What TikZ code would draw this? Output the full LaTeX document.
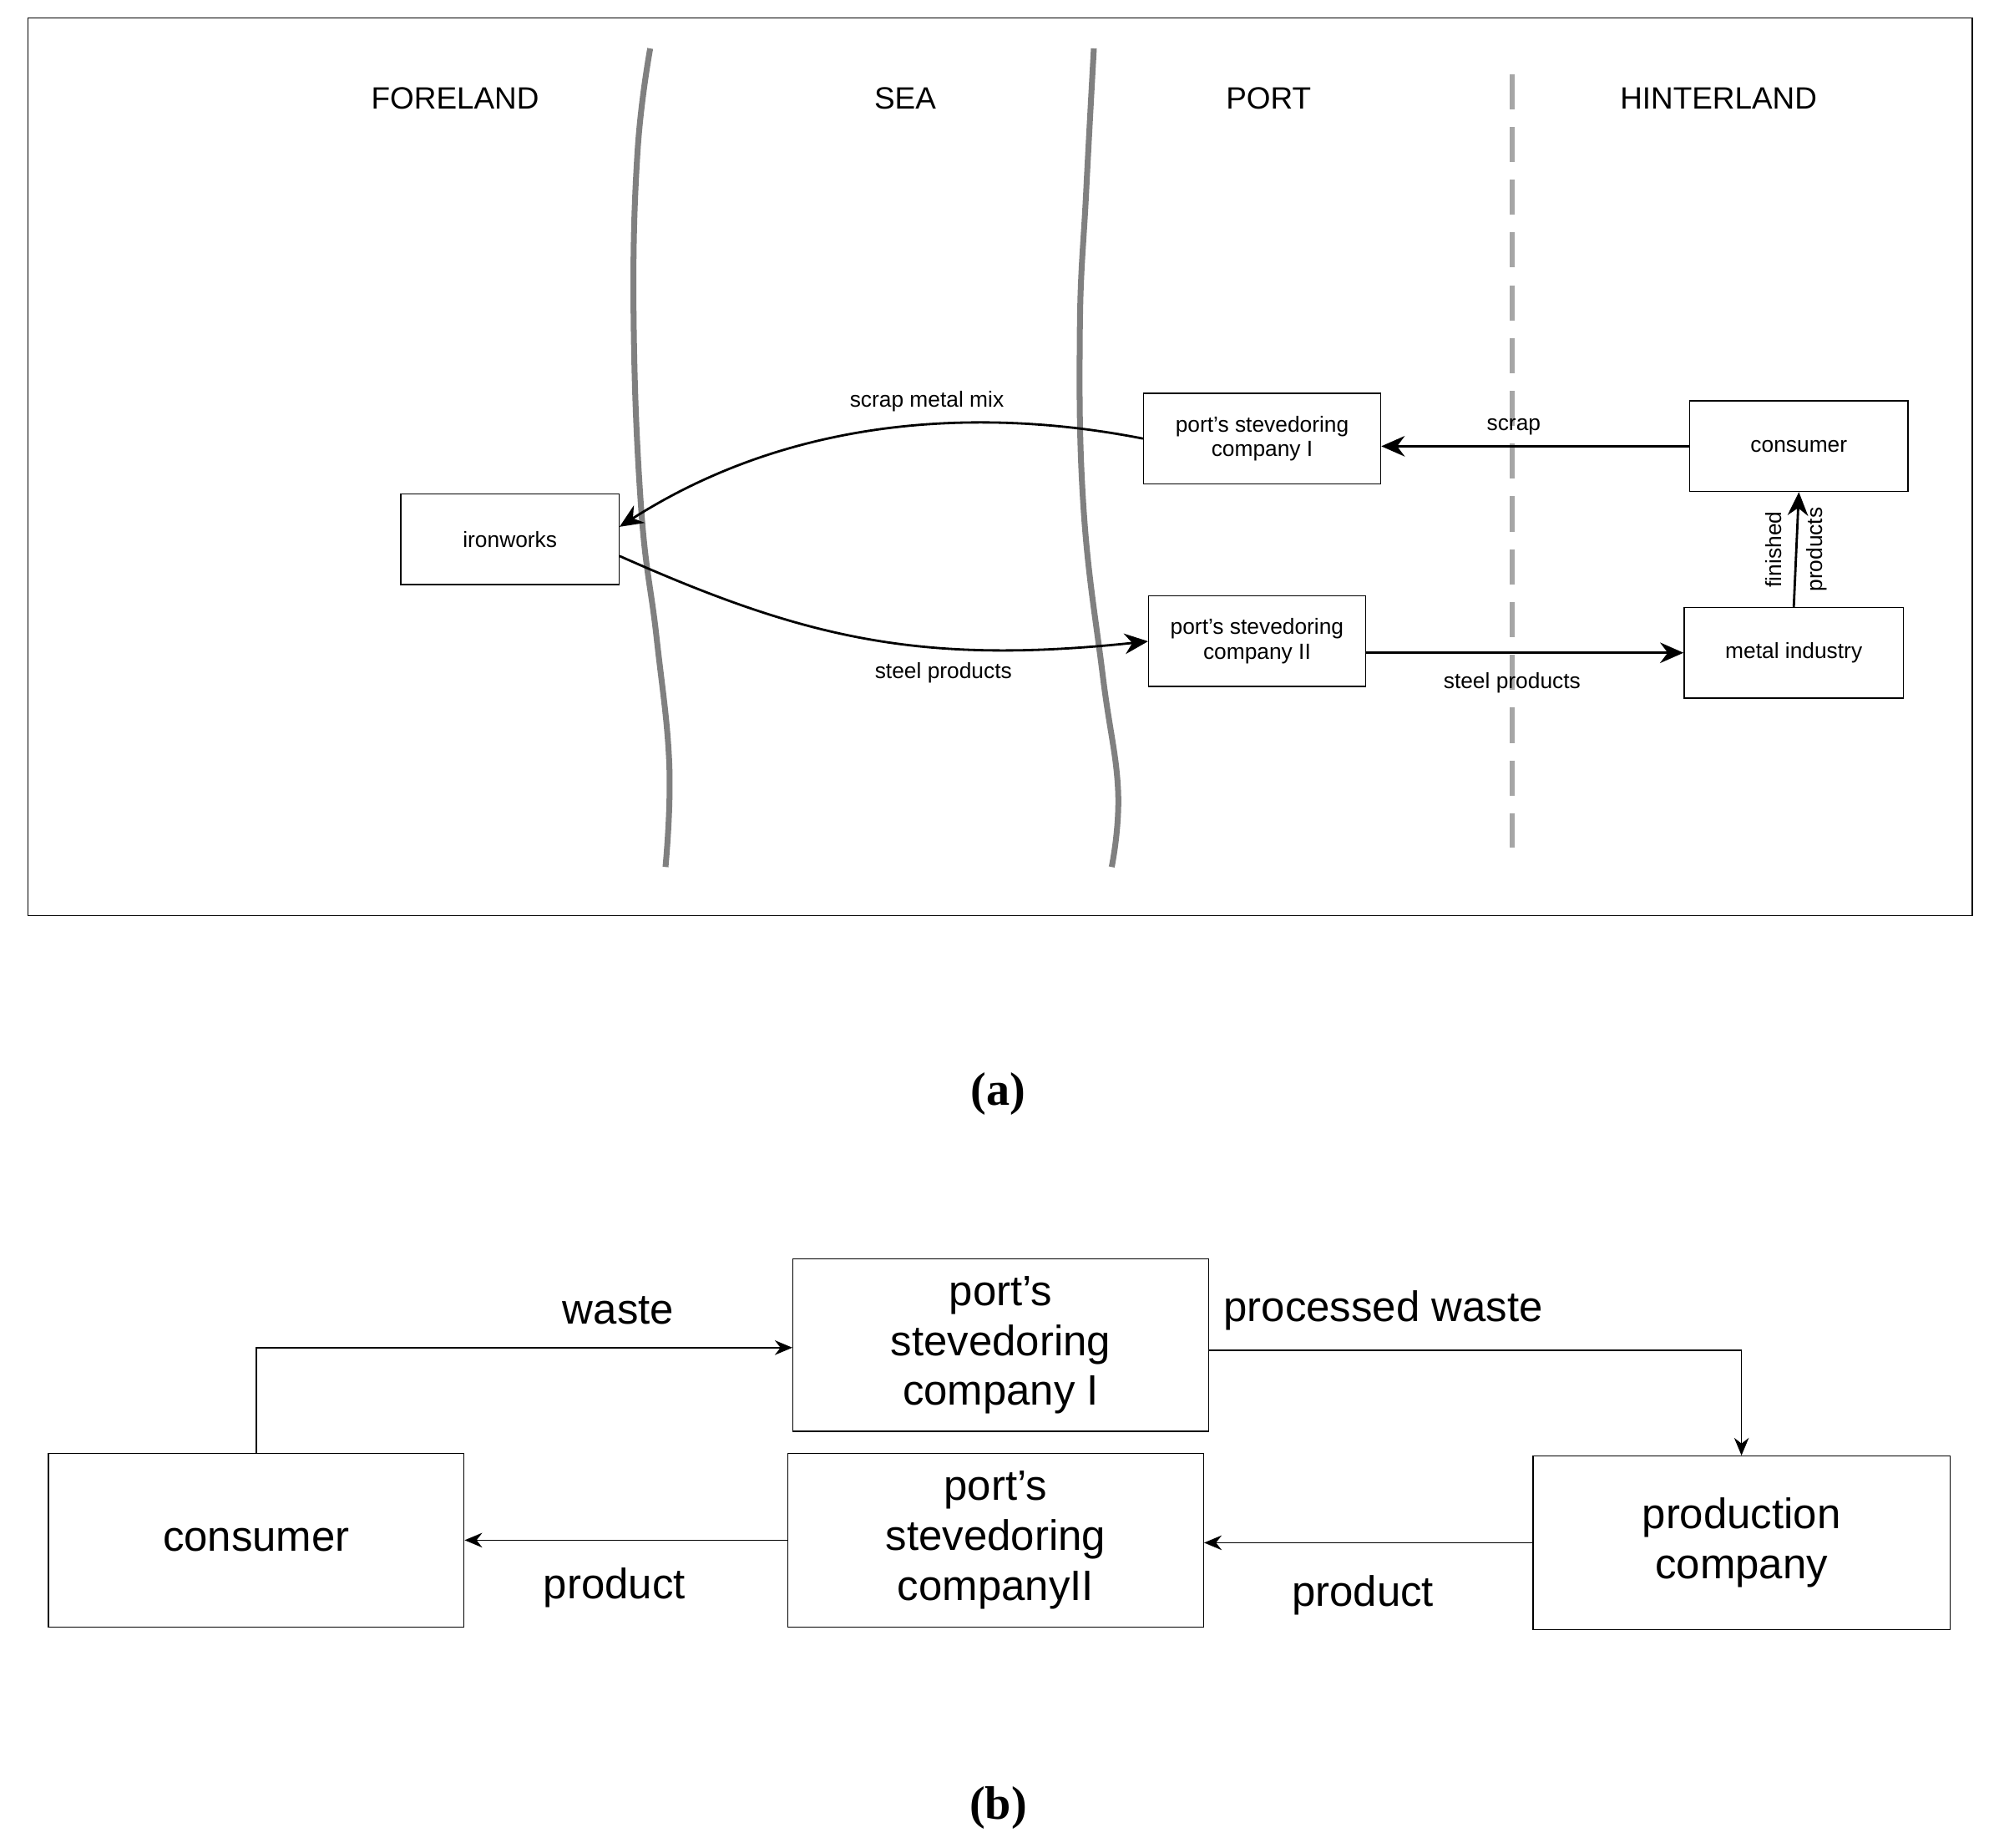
\documentclass[tikz,border=0pt]{standalone}
\usepackage{fontspec}
\setmainfont{Liberation Sans}
\newfontfamily\capfont{Liberation Serif}
\usetikzlibrary{arrows.meta}
\tikzset{
  box/.style={draw, thin, inner sep=0pt, align=center},
  flow/.style={-{Stealth[length=8pt,width=7pt]}, thick},
  thinflow/.style={-{Stealth[length=6pt,width=5pt]}, thin},
  lab/.style={font=\fontsize{7.5}{8.5}\selectfont},
  big/.style={font=\fontsize{14.5}{17}\selectfont},
  zone/.style={font=\fontsize{10.5}{12}\selectfont},
}
\begin{document}
\begin{tikzpicture}[x=0.01527cm, y=-0.01527cm]
        \useasboundingbox (0,0) rectangle (1568,1449);

        % frame of (a)
        \draw[thin] (22,14) rectangle (1547,718);

        % coast lines and port border
        \draw[gray, line width=2pt] plot[smooth, tension=0.7] coordinates {(510,38) (500,120) (497,250) (503,400) (515,500) (525,600) (522,680)};
        \draw[gray, line width=2pt] plot[smooth, tension=0.7] coordinates {(858,38) (852,150) (847,260) (850,400) (865,530) (877,620) (872,680)};
        \draw[gray!70, line width=1.8pt, dash pattern=on 12pt off 6pt] (1186,58) -- (1186,665);

        \node[zone] at (357,77) {FORELAND};
        \node[zone] at (710,77) {SEA};
        \node[zone] at (995,77) {PORT};
        \node[zone] at (1348,77) {HINTERLAND};

        \node[box, lab, minimum width=171*0.01527cm, minimum height=71*0.01527cm] (iron) at (400,423) {ironworks};
        \node[box, lab, minimum width=186*0.01527cm, minimum height=71*0.01527cm] (stevA) at (990,344) {port's stevedoring\\company I};
        \node[box, lab, minimum width=171*0.01527cm, minimum height=71*0.01527cm] (cons) at (1411,350) {consumer};
        \node[box, lab, minimum width=170*0.01527cm, minimum height=71*0.01527cm] (stevB) at (986,503) {port's stevedoring\\company II};
        \node[box, lab, minimum width=172*0.01527cm, minimum height=71*0.01527cm] (metal) at (1407,512) {metal industry};

        \draw[flow] (stevA.west) .. controls (800,325) and (640,315) .. ([yshift=0.15cm]iron.east);
        \node[lab] at (727,315) {scrap metal mix};
        \draw[flow] ([yshift=-0.2cm]iron.east) .. controls (630,500) and (720,522) .. (stevB.west);
        \node[lab] at (740,528) {steel products};
        \draw[flow] (cons.west) -- (cons.west -| stevA.east) node[pos=0.57, above, lab] {scrap};
        \draw[flow] (stevB.east |- metal.west) -- (metal.west) node[pos=0.46, below=3pt, lab] {steel products};
        \draw[flow] (metal.north) -- (cons.south) node[midway, lab, rotate=90, align=center, font=\fontsize{7.5}{14}\selectfont] {finished\\products};

        \node[font=\capfont\bfseries\fontsize{16}{18}\selectfont] (capA) at (783,858) {(a)};

        % part (b)
        \node[box, big, minimum width=326*0.01527cm, minimum height=135*0.01527cm] (pscA) at (785,1055) {port's\\stevedoring\\company I};
        \node[box, big, minimum width=326*0.01527cm, minimum height=136*0.01527cm] (buyer) at (201,1208) {consumer};
        \node[box, big, minimum width=326*0.01527cm, minimum height=136*0.01527cm] (pscB) at (781,1208) {port's\\stevedoring\\companyII};
        \node[box, big, minimum width=327*0.01527cm, minimum height=136*0.01527cm] (prod) at (1366,1210) {production\\company};

        \coordinate (c1) at (201,1057);
        \coordinate (c2) at (1366,1059);
        \draw[thinflow] (buyer.north) -- (c1) -- (pscA.west |- c1);
        \draw[thinflow] (pscA.east |- c2) -- (c2) -- (prod.north);
        \draw[thinflow] (prod.west) -- (prod.west -| pscB.east);
        \draw[thinflow] (pscB.west) -- (buyer.east);

        \node[big] at (485,1028) {waste};
        \node[big] at (1085,1028) {processed waste};
        \node[big] at (1069,1251) {product};
        \node[big] at (482,1245) {product};

        \node[font=\capfont\bfseries\fontsize{16}{18}\selectfont] (capB) at (783,1418) {(b)};
\end{tikzpicture}
\end{document}
